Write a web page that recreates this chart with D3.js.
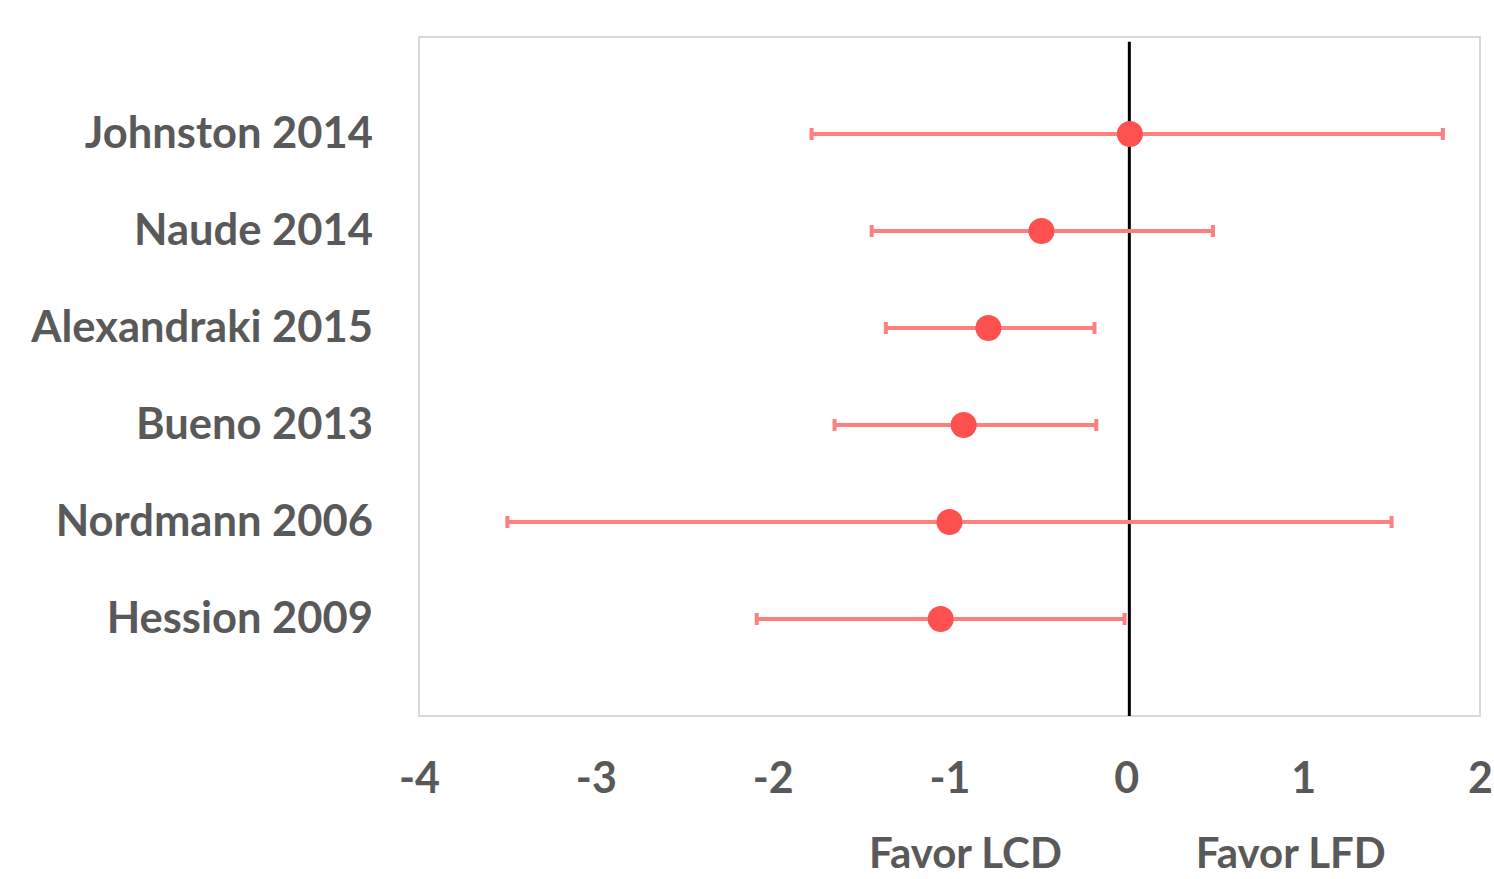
<!DOCTYPE html>
<html>
<head>
<meta charset="utf-8">
<script src="https://cdn.jsdelivr.net/npm/d3@7"></script>
<style>
  body { margin: 0; background: #fff; }
  text { font-family: Lato, "Open Sans", sans-serif; font-weight: bold; fill: #595959; }
</style>
</head>
<body>
<div id="chart"></div>
<script>
// data
var studies = ["Johnston 2014", "Naude 2014", "Alexandraki 2015", "Bueno 2013", "Nordmann 2006", "Hession 2009"];
var effect = [0.02, -0.48, -0.78, -0.92, -1.00, -1.05];
var lower = [-1.78, -1.44, -1.36, -1.65, -3.50, -2.09];
var upper = [1.79, 0.49, -0.18, -0.17, 1.50, -0.01];
var xTicks = [-4, -3, -2, -1, 0, 1, 2];
var sideLabels = [{ text: "Favor LCD", at: -0.91 }, { text: "Favor LFD", at: 0.93 }];
var zeroLine = 0.017;

var width = 1494, height = 879;
var margin = { top: 37, right: 14, bottom: 163, left: 419 };
var w = width - margin.left - margin.right;
var h = height - margin.top - margin.bottom;

var svg = d3.select("#chart")
    .append("svg")
    .attr("width", width)
    .attr("height", height)
    .append("g")
    .attr("transform", `translate(${margin.left}, ${margin.top})`);

// X
var x = d3.scaleLinear()
    .domain([-4, 2])
    .range([0, w]);

// Y: rows at 6..1, domain 0..7
var y = d3.scaleLinear()
    .domain([0, 7])
    .range([h, 0]);
var rowY = (d, i) => y(studies.length - i);

// plot frame
svg.append("rect")
    .attr("x", 0).attr("y", 0)
    .attr("width", w).attr("height", h)
    .attr("fill", "none")
    .attr("stroke", "#d9d9d9")
    .attr("stroke-width", 2);

// x axis labels (no line, no ticks), plain hyphen like the original
var xAxis = svg.append("g")
    .attr("transform", `translate(0, ${h})`)
    .call(d3.axisBottom(x).tickValues(xTicks).tickSize(0).tickPadding(46).tickFormat(d => String(d)));
xAxis.select(".domain").remove();
xAxis.selectAll("text")
    .style("font-family", "Lato, 'Open Sans', sans-serif")
    .style("font-weight", "bold")
    .style("font-size", "43px")
    .attr("fill", "#595959");

// y labels
var yAxis = svg.append("g")
    .call(d3.axisLeft(y).tickValues(d3.range(1, studies.length + 1)).tickSize(0).tickPadding(46)
        .tickFormat(v => studies[studies.length - v]));
yAxis.select(".domain").remove();
yAxis.selectAll("text")
    .style("font-family", "Lato, 'Open Sans', sans-serif")
    .style("font-weight", "bold")
    .style("font-size", "43.5px")
    .attr("fill", "#595959");

// zero line
svg.append("line")
    .attr("x1", x(zeroLine)).attr("x2", x(zeroLine))
    .attr("y1", y(6.95)).attr("y2", y(0))
    .attr("stroke", "#000")
    .attr("stroke-width", 3);

// error bars
var bars = svg.append("g")
    .selectAll("g")
    .data(studies)
    .enter()
    .append("g");

bars.append("line")
    .attr("x1", (d, i) => x(lower[i]))
    .attr("x2", (d, i) => x(upper[i]))
    .attr("y1", rowY).attr("y2", rowY)
    .attr("stroke", "#ff7f7f")
    .attr("stroke-width", 4);

bars.append("line")
    .attr("x1", (d, i) => x(lower[i])).attr("x2", (d, i) => x(lower[i]))
    .attr("y1", (d, i) => rowY(d, i) - 6).attr("y2", (d, i) => rowY(d, i) + 6)
    .attr("stroke", "#ff7f7f")
    .attr("stroke-width", 4);

bars.append("line")
    .attr("x1", (d, i) => x(upper[i])).attr("x2", (d, i) => x(upper[i]))
    .attr("y1", (d, i) => rowY(d, i) - 6).attr("y2", (d, i) => rowY(d, i) + 6)
    .attr("stroke", "#ff7f7f")
    .attr("stroke-width", 4);

bars.append("circle")
    .attr("cx", (d, i) => x(effect[i]))
    .attr("cy", rowY)
    .attr("r", 13)
    .style("fill", "#ff5050");

// side labels
svg.append("g")
    .selectAll("text")
    .data(sideLabels)
    .enter()
    .append("text")
    .attr("x", d => x(d.at))
    .attr("y", h + 152)
    .attr("text-anchor", "middle")
    .style("font-size", "42px")
    .text(d => d.text);
</script>
</body>
</html>
